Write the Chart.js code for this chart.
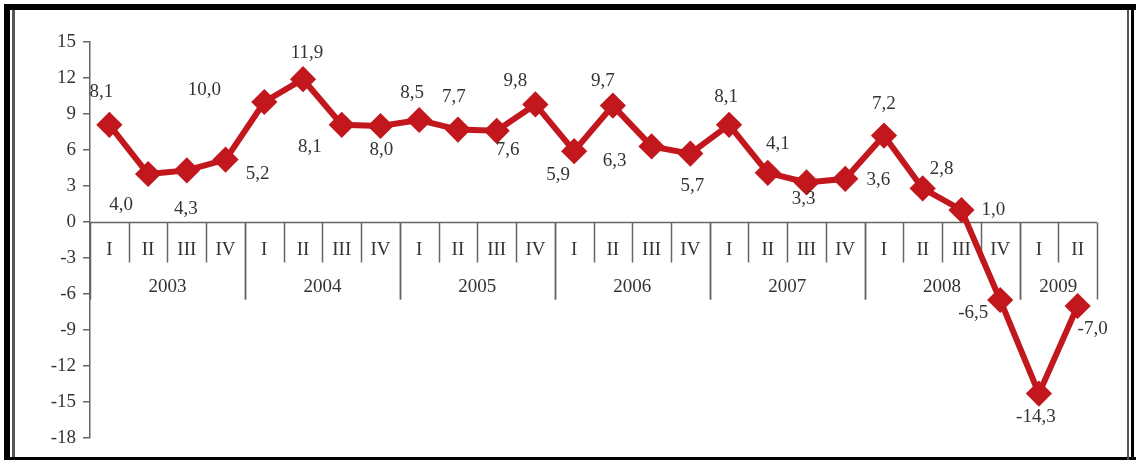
<!DOCTYPE html>
<html>
<head>
<meta charset="utf-8">
<script src="https://cdn.jsdelivr.net/npm/chart.js@4"></script>
<style>
  html, body { margin: 0; padding: 0; background: #fff; }
  #wrap { position: relative; width: 1136px; height: 460px; overflow: hidden; }
  #chart { position: absolute; left: 0; top: 0; }
  .fr { position: absolute; }
</style>
</head>
<body>
<div id="wrap">
  <canvas id="chart" width="1136" height="460"></canvas>
  <!-- frame round the picture -->
  <div class="fr" style="left:4px;top:4px;width:1132px;height:6px;background:#000"></div>
  <div class="fr" style="left:4px;top:4px;width:6px;height:456px;background:#000"></div>
  <div class="fr" style="left:12px;top:10px;width:3px;height:450px;background:#555"></div>
  <div class="fr" style="left:4px;top:457px;width:1132px;height:3px;background:#000"></div>
  <div class="fr" style="left:1127px;top:10px;width:2px;height:450px;background:#555"></div>
  <div class="fr" style="left:1131px;top:10px;width:3px;height:450px;background:#000"></div>
</div>
<script>
const years = ['2003', '2004', '2005', '2006', '2007', '2008', '2009'];
const quartersPerYear = [4, 4, 4, 4, 4, 4, 2];
const quarters = ['I', 'II', 'III', 'IV', 'I', 'II', 'III', 'IV', 'I', 'II', 'III', 'IV',
  'I', 'II', 'III', 'IV', 'I', 'II', 'III', 'IV', 'I', 'II', 'III', 'IV', 'I', 'II'];
const growth = [8.1, 4.0, 4.3, 5.2, 10.0, 11.9, 8.1, 8.0, 8.5, 7.7, 7.6, 9.8,
  5.9, 9.7, 6.3, 5.7, 8.1, 4.1, 3.3, 3.6, 7.2, 2.8, 1.0, -6.5, -14.3, -7.0];
const yMin = -18, yMax = 15, yStep = 3;

// where each value label sits relative to its marker (px)
const labelOffsets = [[-8, -33], [-27, 31], [-1, 39], [32, 14], [-60, -12], [4, -26],
  [-32, 22], [1, 24], [-7, -27], [-4, -33], [11, 19], [-20, -23], [-16, 24], [-10, -25],
  [-37, 15], [2, 32], [-3, -28], [10, -29], [-3, 17], [33, 1], [0, -32], [19, -19],
  [32, 0], [-27, 13], [-3, 23], [15, 23]];

const RED = '#C1171D';
const AXIS = '#666';
const TEXT = '#333';
const FONT = '"Liberation Serif", "DejaVu Serif", serif';

const categoryAxis = {
  id: 'categoryAxis',
  beforeDatasetsDraw(chart) {
    const ctx = chart.ctx;
    const x = chart.scales.x, y = chart.scales.y;
    const y0 = Math.round(y.getPixelForValue(0)) + 0.5;
    const half = (x.getPixelForValue(1) - x.getPixelForValue(0)) / 2;
    const left = x.getPixelForValue(0) - half;
    const right = x.getPixelForValue(quarters.length - 1) + half;
    ctx.save();
    ctx.strokeStyle = AXIS;
    ctx.lineWidth = 1.5;
    ctx.beginPath();
    ctx.moveTo(left, y0);
    ctx.lineTo(right, y0);
    ctx.stroke();

    ctx.fillStyle = TEXT;
    ctx.font = '19px ' + FONT;
    ctx.textAlign = 'center';
    ctx.textBaseline = 'middle';

    let idx = 0;
    years.forEach((yr, k) => {
      const n = quartersPerYear[k];
      const start = x.getPixelForValue(idx) - half;
      const end = x.getPixelForValue(idx + n - 1) + half;
      for (let q = 0; q < n; q++) {
        const cx = x.getPixelForValue(idx + q);
        ctx.fillText(quarters[idx + q], cx, y0 + 28);
        if (q > 0) {
          const bx = Math.round(cx - half) + 0.5;
          ctx.beginPath();
          ctx.moveTo(bx, y0);
          ctx.lineTo(bx, y0 + 40);
          ctx.stroke();
        }
      }
      ctx.fillText(yr, (start + end) / 2, y0 + 65);
      [start, end].forEach(bx0 => {
        const bx = Math.round(bx0) + 0.5;
        ctx.beginPath();
        ctx.moveTo(bx, y0);
        ctx.lineTo(bx, y0 + 77);
        ctx.stroke();
      });
      idx += n;
    });
    ctx.restore();
  }
};

const valueLabels = {
  id: 'valueLabels',
  afterDatasetsDraw(chart) {
    const ctx = chart.ctx;
    const meta = chart.getDatasetMeta(0);
    ctx.save();
    ctx.fillStyle = TEXT;
    ctx.font = '19px ' + FONT;
    ctx.textAlign = 'center';
    ctx.textBaseline = 'middle';
    meta.data.forEach((pt, i) => {
      const off = labelOffsets[i];
      const txt = growth[i].toFixed(1).replace('.', ',');
      ctx.fillText(txt, pt.x + off[0], pt.y + off[1]);
    });
    ctx.restore();
  }
};

new Chart(document.getElementById('chart'), {
  type: 'line',
  data: {
    labels: quarters,
    datasets: [{
      data: growth,
      borderColor: RED,
      borderWidth: 6,
      backgroundColor: RED,
      pointStyle: 'rectRot',
      pointRadius: 11,
      pointBorderWidth: 3,
      pointBorderColor: RED,
      pointBackgroundColor: RED,
      tension: 0,
      fill: false
    }]
  },
  options: {
    responsive: false,
    animation: false,
    layout: { padding: { left: 40, top: 42, right: 39, bottom: 22 } },
    plugins: { legend: { display: false }, tooltip: { enabled: false } },
    scales: {
      x: { type: 'category', display: false, offset: true },
      y: {
        min: yMin,
        max: yMax,
        afterFit(scale) { scale.width = 50; },
        ticks: {
          stepSize: yStep,
          padding: 7,
          color: TEXT,
          font: { family: FONT, size: 19 }
        },
        grid: { drawOnChartArea: false, drawTicks: true, tickLength: 7, color: AXIS, lineWidth: 1.5 },
        border: { color: AXIS, width: 1.5 }
      }
    }
  },
  plugins: [categoryAxis, valueLabels]
});
</script>
</body>
</html>
